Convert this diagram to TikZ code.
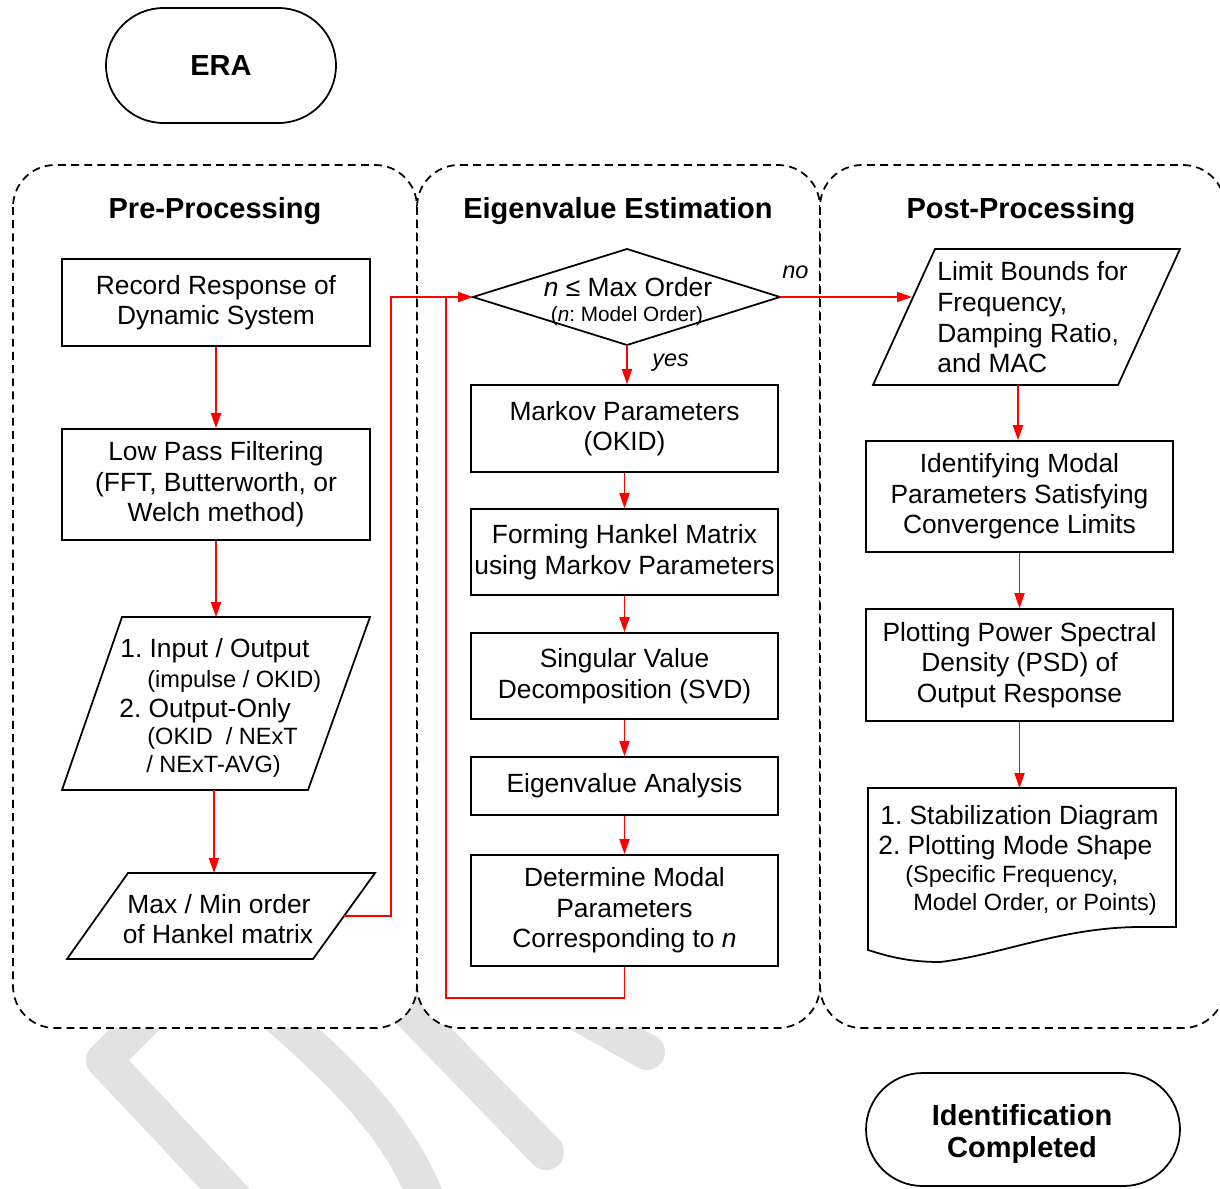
\documentclass[tikz,border=0pt]{standalone}
\usepackage{fontspec}
\setmainfont{Liberation Sans}
\usetikzlibrary{arrows.meta}
\begin{document}
\frenchspacing
\begin{tikzpicture}[x=0.02cm, y=-0.02cm,
  body/.style={font=\fontsize{15}{17.3}\selectfont, inner sep=0pt},
  note/.style={font=\fontsize{13.4}{15.5}\selectfont, inner sep=0pt},
  tiny/.style={font=\fontsize{11.8}{14}\selectfont, inner sep=0pt},
  head/.style={font=\fontsize{16.5}{19}\selectfont\bfseries, inner sep=0pt},
  answer/.style={font=\fontsize{13.4}{15.5}\selectfont\itshape, inner sep=0pt},
  procbox/.style={draw, line width=1pt, fill=white, rectangle, inner sep=0pt,
                  align=center, body},
  terminal/.style={draw, line width=1pt, fill=white, rectangle, inner sep=0pt},
  outline/.style={draw, line width=1pt, fill=white, line join=miter},
  stage/.style={draw, line width=1pt, dash pattern=on 4.5pt off 3pt,
                fill=white, rounded corners=0.84cm},
  flow/.style={draw=red, line width=1pt, -{Triangle[length=8.5pt,width=5.7pt]}},
  link/.style={draw=red, line width=1pt},
  wmstroke/.style={draw={rgb,255:red,226;green,226;blue,226}, line width=0.72cm,
               line cap=round, line join=round}
]
\useasboundingbox (0,0) rectangle (1220,1188);

% faint background strokes
\draw[wmstroke] (165,999) -- (104,1060) -- (245,1210);
\draw[wmstroke] (262,1002) .. controls (340,1070) and (405,1130) .. (432,1215);
\draw[wmstroke] (360,960) -- (546,1152);
\draw[wmstroke] (520,980) -- (647,1052);

% the three stages
\draw[stage] (13,165) rectangle (417,1028);
\draw[stage] (417,165) rectangle (820,1028);
\draw[stage] (820,165) rectangle (1225,1028);

\node[head, anchor=base] (hpre)  at (215,218) {Pre-Processing};
\node[head, anchor=base] (heig)  at (618,218) {Eigenvalue Estimation};
\node[head, anchor=base] (hpost) at (1021,218) {Post-Processing};

% start terminal
\node[terminal, minimum width=4.6cm, minimum height=2.3cm,
      rounded corners=1.15cm, head] (era) at (221,65.5) {ERA};

% ---------- pre-processing ----------
\node[procbox, minimum width=6.16cm, minimum height=1.74cm] (rec) at (216,302.5)
  {Record Response of\\Dynamic System};
\node[procbox, minimum width=6.16cm, minimum height=2.22cm] (lpf) at (216,484.5)
  {Low Pass Filtering\\(FFT, Butterworth, or\\Welch method)};

\coordinate (io-nw) at (122,617);
\coordinate (io-ne) at (370,617);
\coordinate (io-se) at (308,790);
\coordinate (io-sw) at (62,790);
\coordinate (io-n) at (216,617);
\coordinate (io-s) at (214,790);
\draw[outline] (io-nw) -- (io-ne) -- (io-se) -- (io-sw) -- cycle;
\node[body, anchor=base west] (io1) at (120,657) {1. Input / Output};
\node[note, anchor=base west] (io2) at (147,687) {(impulse / OKID)};
\node[body, anchor=base west] (io3) at (119,717) {2. Output-Only};
\node[note, anchor=base west] (io4) at (147,744) {(OKID\ \ / NExT};
\node[note, anchor=base west] (io5) at (146,772) {/ NExT-AVG)};

\coordinate (mm-nw) at (128,873);
\coordinate (mm-ne) at (375,873);
\coordinate (mm-se) at (313,959);
\coordinate (mm-sw) at (67,959);
\coordinate (mm-n) at (214,873);
\coordinate (mm-e) at (344,916);
\draw[outline] (mm-nw) -- (mm-ne) -- (mm-se) -- (mm-sw) -- cycle;
\node[body, anchor=base] (mm1) at (219,913) {Max / Min order};
\node[body, anchor=base] (mm2) at (218,943) {of Hankel matrix};

% ---------- eigenvalue estimation ----------
\coordinate (dl) at (473,297);
\coordinate (dt) at (627,249);
\coordinate (dr) at (780,297);
\coordinate (db) at (627,345);
\draw[outline] (dl) -- (dt) -- (dr) -- (db) -- cycle;
\node[body, anchor=base] (q1) at (628,296) {\textit{n} ≤ Max Order};
\node[tiny, anchor=base] (q2) at (627,321) {(\textit{n}: Model Order)};
\node[answer, anchor=base west] (ano)  at (782,278) {no};
\node[answer, anchor=base west] (ayes) at (652,366) {yes};

\node[procbox, minimum width=6.14cm, minimum height=1.74cm] (mk) at (624.5,428.5)
  {Markov Parameters\\(OKID)};
\node[procbox, minimum width=6.14cm, minimum height=1.72cm] (hk) at (624.5,552)
  {Forming Hankel Matrix\\using Markov Parameters};
\node[procbox, minimum width=6.14cm, minimum height=1.72cm] (svd) at (624.5,676)
  {Singular Value\\Decomposition (SVD)};
\node[procbox, minimum width=6.14cm, minimum height=1.16cm] (eig) at (624.5,786)
  {Eigenvalue Analysis};
\node[procbox, minimum width=6.14cm, minimum height=2.22cm] (det) at (624.5,910.5)
  {Determine Modal\\Parameters\\Corresponding to \textit{n}};

% ---------- post-processing ----------
\coordinate (lim-nw) at (935,249);
\coordinate (lim-ne) at (1180,249);
\coordinate (lim-se) at (1118,385);
\coordinate (lim-sw) at (873,385);
\coordinate (lim-w) at (912,297);
\coordinate (lim-s) at (1018,385);
\draw[outline] (lim-nw) -- (lim-ne) -- (lim-se) -- (lim-sw) -- cycle;
\node[body, anchor=base west] (lim1) at (937,280) {Limit Bounds for};
\node[body, anchor=base west] (lim2) at (937,311) {Frequency,};
\node[body, anchor=base west] (lim3) at (937,342) {Damping Ratio,};
\node[body, anchor=base west] (lim4) at (937,372) {and MAC};

\node[procbox, minimum width=6.14cm, minimum height=2.22cm] (idm) at (1019.5,496.5)
  {Identifying Modal\\Parameters Satisfying\\Convergence Limits};
\node[procbox, minimum width=6.14cm, minimum height=2.24cm] (psd) at (1019.5,665)
  {Plotting Power Spectral\\Density (PSD) of\\Output Response};

\coordinate (doc-n) at (1019.5,788);
\draw[outline] (868,788) -- (1176,788) -- (1176,927) -- (1137,927)
  .. controls (1060,928) and (1000,955) .. (940,962)
  .. controls (910,962) and (890,957) .. (868,950) -- cycle;
\node[body, anchor=base west] (doc1) at (880,824) {1. Stabilization Diagram};
\node[body, anchor=base west] (doc2) at (878,854) {2. Plotting Mode Shape};
\node[note, anchor=base west] (doc3) at (905,882) {(Specific Frequency,};
\node[note, anchor=base west] (doc4) at (913,910) {Model Order, or Points)};

% end terminal
\node[terminal, minimum width=6.28cm, minimum height=2.26cm,
      rounded corners=1.13cm] (done) at (1023,1129.5) {};
\node[head, anchor=base] (done1) at (1022,1125) {Identification};
\node[head, anchor=base] (done2) at (1022,1157) {Completed};

% ---------- connectors ----------
\coordinate (jA) at (391,297);
\coordinate (jB) at (446,998);
\coordinate (jC) at (446,297);

\draw[flow] (rec.south) -- (lpf.north);
\draw[flow] (lpf.south) -- (io-n);
\draw[flow] (io-s) -- (mm-n);
\draw[link] (det.south) |- (jB) -- (jC);
\draw[flow] (mm-e) -| (jA) -- (dl);
\draw[flow] (db) -- (db |- mk.north);
\draw[flow] (mk) -- (hk);
\draw[flow] (hk) -- (svd);
\draw[flow] (svd) -- (eig);
\draw[flow] (eig) -- (det);
\draw[flow] (dr) -- (lim-w);
\draw[flow] (lim-s) -- (lim-s |- idm.north);
\draw[flow] (idm) -- (psd);
\draw[flow] (psd.south) -- (doc-n);
\end{tikzpicture}
\end{document}
